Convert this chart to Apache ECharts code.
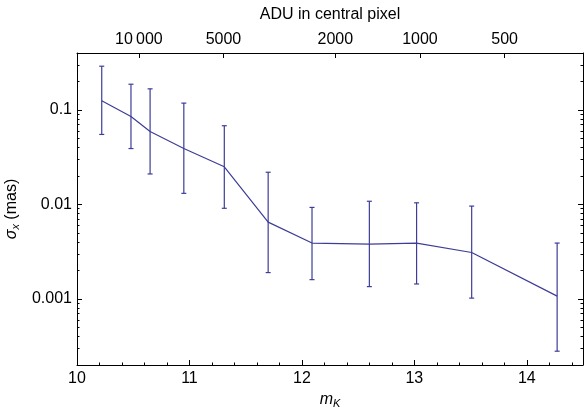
<!DOCTYPE html>
<html>
<head>
<meta charset="utf-8">
<script src="https://cdn.jsdelivr.net/npm/echarts@6/dist/echarts.min.js"></script>
<style>
html, body { margin: 0; padding: 0; background: #fff; }
#chart { width: 584px; height: 408px; }
</style>
</head>
<body>
<div id="chart"></div>
<script>
// K magnitude of each bin and the measured sigma_x (mas) with its error range
const magK = [10.22, 10.48, 10.65, 10.95, 11.31, 11.70, 12.09, 12.60, 13.02, 13.51, 14.27];
const sigma = [0.125, 0.085, 0.059, 0.039, 0.025, 0.0065, 0.0039, 0.0038, 0.0039, 0.0031, 0.00107];
const sigmaLow = [0.055, 0.039, 0.021, 0.0131, 0.0091, 0.0019, 0.0016, 0.00135, 0.00144, 0.00102, 0.00028];
const sigmaHigh = [0.29, 0.187, 0.167, 0.118, 0.068, 0.0219, 0.0093, 0.0108, 0.0104, 0.0096, 0.0039];

// top axis: ADU in the central pixel
const aduTicks = [10000, 5000, 2000, 1000, 500];
const aduLabels = ['10\u2009000', '5000', '2000', '1000', '500'];
const zeroPoint = 20.55; // mK = zeroPoint - 2.5 log10(ADU)

const aduPos = aduTicks.map(a => zeroPoint - 2.5 * Math.log10(a));

const blue = '#3d3d99';
const font = "'Liberation Sans', Arial, sans-serif";
const black = {color: '#000', width: 1};

const chart = echarts.init(document.getElementById('chart'));

const lineData = magK.map((m, i) => [m, sigma[i]]);
const barData = magK.map((m, i) => [m, sigmaLow[i], sigmaHigh[i]]);

chart.setOption({
    animation: false,
    textStyle: {fontFamily: font, color: '#000'},
    grid: {left: 77, right: 1, top: 53, bottom: 43, outerBoundsMode: 'none'},
    xAxis: [
        {
            type: 'value', position: 'bottom', min: 10, max: 14.5, interval: 1,
            axisLine: {lineStyle: black},
            axisTick: {inside: true, length: 5, lineStyle: black},
            axisLabel: {showMaxLabel: false, margin: 6, fontSize: 16, color: '#000', fontFamily: font},
            splitLine: {show: false},
            name: '{m|m}{k|K}',
            nameLocation: 'middle',
            nameGap: 24,
            nameTextStyle: {
                rich: {
                    m: {fontSize: 16, fontStyle: 'italic', fontFamily: font, color: '#000'},
                    k: {fontSize: 11, fontStyle: 'italic', fontFamily: font, color: '#000', padding: [8, 0, 0, 0]}
                }
            }
        },
        {
            type: 'value', position: 'top', min: 10, max: 14.5,
            axisLine: {lineStyle: black},
            axisTick: {inside: true, length: 5, lineStyle: black, customValues: aduPos},
            axisLabel: {
                customValues: aduPos, margin: 5, fontSize: 16, color: '#000', fontFamily: font,
                formatter: v => aduLabels[aduPos.findIndex(p => Math.abs(p - v) < 1e-6)]
            },
            splitLine: {show: false},
            name: 'ADU in central pixel',
            nameLocation: 'middle',
            nameGap: 30,
            nameTextStyle: {fontSize: 16, fontFamily: font, color: '#000'}
        },
        {
            // minor ticks of the bottom axis
            type: 'value', position: 'bottom', min: 10, max: 14.5, interval: 0.2,
            axisLine: {show: false},
            axisTick: {inside: true, length: 2.5, lineStyle: black},
            axisLabel: {show: false},
            splitLine: {show: false}
        }
    ],
    yAxis: [
        {
            type: 'log', position: 'left', min: 0.0002, max: 0.4,
            axisLine: {show: true, lineStyle: black},
            axisTick: {inside: true, length: 5, lineStyle: black},
            minorTick: {show: true, splitNumber: 9, length: 2.5, lineStyle: black},
            axisLabel: {showMinLabel: false, showMaxLabel: false, margin: 5, fontSize: 16, color: '#000', fontFamily: font},
            splitLine: {show: false},
            minorSplitLine: {show: false},
            name: '{s|σ}{x|x}{n| (mas)}',
            nameLocation: 'middle',
            nameGap: 54,
            nameTextStyle: {
                rich: {
                    s: {fontSize: 16, fontStyle: 'italic', fontFamily: font, color: '#000'},
                    x: {fontSize: 11, fontStyle: 'italic', fontFamily: font, color: '#000', padding: [8, 0, 0, 0]},
                    n: {fontSize: 16, fontFamily: font, color: '#000'}
                }
            }
        },
        {
            type: 'log', position: 'right', min: 0.0002, max: 0.4,
            axisLine: {show: true, lineStyle: black},
            axisTick: {inside: true, length: 5, lineStyle: black},
            minorTick: {show: true, splitNumber: 9, length: 2.5, lineStyle: black},
            axisLabel: {show: false},
            splitLine: {show: false},
            minorSplitLine: {show: false}
        }
    ],
    series: [
        {
            type: 'line',
            xAxisIndex: 0, yAxisIndex: 0,
            data: lineData,
            symbol: 'none',
            lineStyle: {color: blue, width: 1.2},
            z: 3
        },
        {
            type: 'custom',
            xAxisIndex: 0, yAxisIndex: 0,
            data: barData,
            encode: {x: 0, y: [1, 2]},
            renderItem: function (params, api) {
                const x = api.value(0);
                const top = api.coord([x, api.value(2)]);
                const bot = api.coord([x, api.value(1)]);
                const w = 2.5;
                const style = {stroke: blue, lineWidth: 1.2};
                return {
                    type: 'group',
                    children: [
                        {type: 'line', shape: {x1: top[0], y1: top[1], x2: bot[0], y2: bot[1]}, style: style},
                        {type: 'line', shape: {x1: top[0] - w, y1: top[1], x2: top[0] + w, y2: top[1]}, style: style},
                        {type: 'line', shape: {x1: bot[0] - w, y1: bot[1], x2: bot[0] + w, y2: bot[1]}, style: style}
                    ]
                };
            },
            z: 4
        }
    ]
});
</script>
</body>
</html>
